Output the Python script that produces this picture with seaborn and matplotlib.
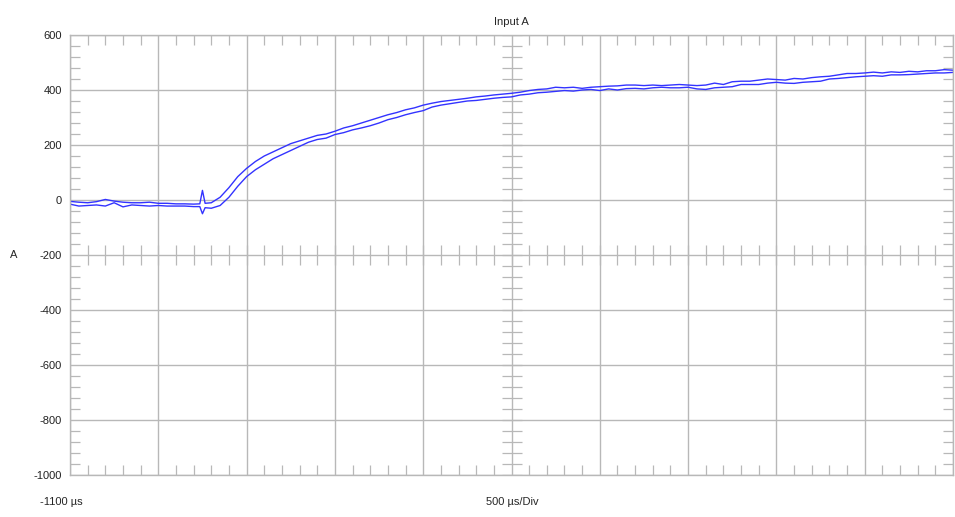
import numpy as np
import pandas as pd
import matplotlib
matplotlib.use("Agg")
import matplotlib.pyplot as plt
import seaborn as sns

# ---- data ----
time_us = (list(range(-1100, -399, 50)) + [-365, -350, -335]
           + list(range(-300, 3901, 50)))
trace_upper = [
    -5, -8, -10, -6, 2, -4, -8, -10, -10, -8,
    -12, -12, -14, -14, -15, -14, 35, -12, -10, 10, 45, 85,
    115, 140, 160, 175, 190, 205, 215, 225, 235, 240,
    250, 262, 270, 280, 290, 300, 310, 318, 328, 335,
    345, 352, 358, 362, 366, 370, 375, 378, 382, 385,
    388, 392, 398, 402, 404, 410, 408, 410, 406, 410,
    412, 414, 415, 418, 418, 416, 418, 416, 418, 420,
    418, 416, 418, 425, 420, 430, 432, 432, 436, 440,
    438, 436, 442, 440, 445, 448, 450, 455, 460, 460,
    462, 465, 462, 466, 464, 468, 466, 470, 470, 474,
    472,
]
trace_lower = [
    -15, -22, -20, -18, -22, -10, -25, -18, -20, -22,
    -20, -22, -22, -22, -24, -24, -50, -28, -30, -20, 10, 50,
    85, 110, 130, 150, 165, 180, 195, 210, 220, 225,
    238, 245, 255, 262, 270, 280, 292, 300, 310, 318,
    325, 338, 345, 350, 355, 360, 362, 366, 370, 373,
    375, 382, 385, 390, 392, 395, 398, 396, 400, 402,
    398, 404, 400, 405, 406, 404, 408, 410, 408, 408,
    410, 404, 402, 408, 410, 412, 420, 420, 420, 425,
    428, 425, 424, 428, 430, 432, 440, 442, 445, 448,
    450, 452, 450, 455, 455, 456, 458, 460, 462, 462,
    464,
]
y_ticks = [600, 400, 200, 0, -200, -400, -600, -800, -1000]
title = "Input A"
y_label = "A"
start_label = "-1100 \u00b5s"
div_label = "500 \u00b5s/Div"

df = pd.DataFrame({
    "t": time_us * 2,
    "v": trace_upper + trace_lower,
    "trace": ["upper"] * len(time_us) + ["lower"] * len(time_us),
})

sns.set_style("white")
plt.rcParams["font.family"] = ["Liberation Sans", "DejaVu Sans"]

fig = plt.figure(figsize=(9.55, 5.17), dpi=100)
ax = fig.add_axes([70 / 955, 1 - 475 / 517, 883 / 955, 440 / 517])

x0, x1 = -1100, 3900
ax.set_xlim(x0, x1)
ax.set_ylim(-1000, 600)

grid_c = "#b8b8b8"
major_x = np.arange(x0, x1 + 1, 500)
ax.set_xticks(major_x)
ax.set_yticks(y_ticks)
ax.set_xticks(np.arange(x0, x1 + 1, 100), minor=True)
ax.set_yticks(np.arange(-1000, 601, 40), minor=True)
ax.grid(True, which="major", color=grid_c, lw=1.0)
ax.set_xticklabels([])
ax.set_yticklabels([str(v) for v in y_ticks], fontsize=8, color="#222222")
ax.tick_params(axis="both", which="major", length=0, pad=6)
ax.tick_params(axis="both", which="minor", direction="in", length=7,
               color=grid_c, width=0.9, top=True, bottom=True, left=True, right=True)
for s in ax.spines.values():
    s.set_color(grid_c)
    s.set_linewidth(1.0)

# centre cross minor marks
xm = np.arange(x0, x1 + 1, 100)
ym = np.arange(-1000, 601, 40)
ax.plot(xm, np.full(len(xm), -200), "|", ms=14, color=grid_c, mew=0.9)
ax.plot(np.full(len(ym), 1400), ym, "_", ms=14, color=grid_c, mew=0.9)

sns.lineplot(data=df, x="t", y="v", hue="trace", palette=["#3333ff", "#3333ff"],
             estimator=None, sort=False, lw=1.0, legend=False, ax=ax)
ax.set_xlabel("")
ax.set_ylabel(y_label, rotation=0, fontsize=8, labelpad=14, va="center")
ax.set_title(title, fontsize=8, pad=7)

fig.text(40 / 955, 1 - 502 / 517, start_label, fontsize=8, va="center", ha="left")
fig.text(512 / 955, 1 - 502 / 517, div_label, fontsize=8, va="center", ha="center")

fig.savefig("out.png", dpi=100)
